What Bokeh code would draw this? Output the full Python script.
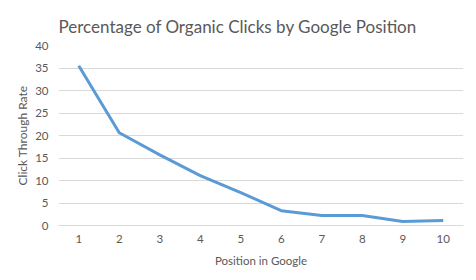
from bokeh.plotting import figure
from bokeh.models import ColumnDataSource, FixedTicker, Range1d
from bokeh.embed import file_html
from bokeh.resources import INLINE

positions = [1, 2, 3, 4, 5, 6, 7, 8, 9, 10]
ctr = [35.5, 20.6, 15.7, 11.1, 7.3, 3.3, 2.2, 2.2, 0.9, 1.1]
y_ticks = [0, 5, 10, 15, 20, 25, 30, 35, 40]

FONT = "Lato"
GREY = "#595959"

src = ColumnDataSource(dict(x=positions, y=ctr))

p = figure(width=476, height=280, output_backend="svg", toolbar_location=None,
           x_range=Range1d(0.5, 10.5), y_range=Range1d(0, 40),
           title="Percentage of Organic Clicks by Google Position")
p.min_border_left = 58
p.min_border_right = 13
p.min_border_top = 45
p.min_border_bottom = 55
p.outline_line_color = None
p.background_fill_color = "white"
p.border_fill_color = "white"

p.title.text_font = FONT
p.title.text_font_size = "17px"
p.title.text_font_style = "normal"
p.title.text_color = GREY
p.title.align = "left"
p.title.offset = 0
p.title.standoff = 18

p.line("x", "y", source=src, line_color="#5B9BD5", line_width=3, line_join="round")

p.xaxis.ticker = FixedTicker(ticks=positions)
p.yaxis.ticker = FixedTicker(ticks=y_ticks)
p.xaxis.axis_label = "Position in Google"
p.yaxis.axis_label = "Click Through Rate"
for ax in (p.xaxis[0], p.yaxis[0]):
    ax.major_label_text_font = FONT
    ax.major_label_text_font_size = "11.5px"
    ax.major_label_text_color = GREY
    ax.axis_label_text_font = FONT
    ax.axis_label_text_font_size = "11.5px"
    ax.axis_label_text_color = GREY
    ax.axis_label_text_font_style = "normal"
    ax.major_tick_line_color = None
    ax.minor_tick_line_color = None
    ax.major_tick_out = 0
    ax.major_tick_in = 0
    ax.minor_tick_out = 0
p.yaxis.axis_label_text_font_size = "12px"
p.xaxis.axis_line_color = "#d9d9d9"
p.yaxis.axis_line_color = None
p.xaxis.major_label_standoff = 9
p.xaxis.axis_label_standoff = 8
p.yaxis.major_label_standoff = 10
p.yaxis.axis_label_standoff = 2

p.xgrid.grid_line_color = None
p.ygrid.grid_line_color = "#d9d9d9"

open("out.html", "w").write(file_html(p, INLINE))
